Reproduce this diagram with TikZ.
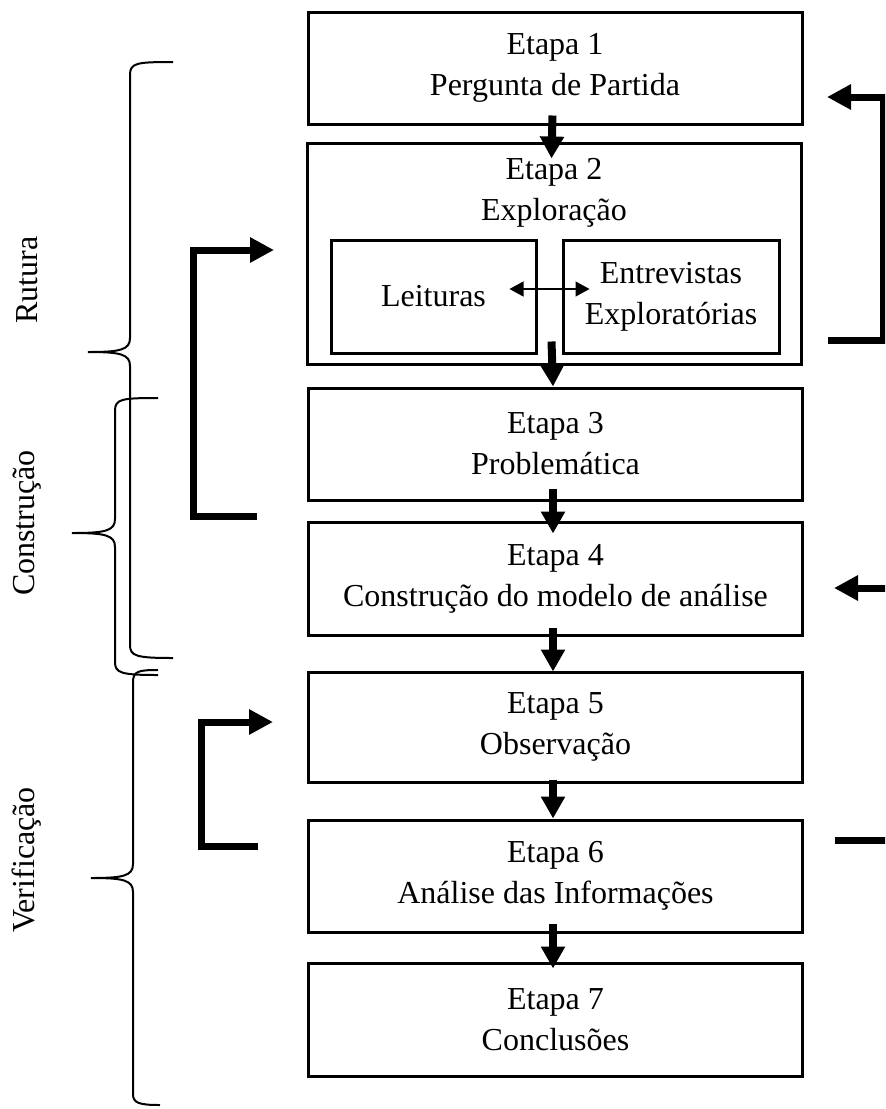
\documentclass[tikz,border=0pt]{standalone}
\usepackage{fontspec}
\setmainfont{Liberation Serif}
\usetikzlibrary{arrows.meta}
\newcommand\fsz{\fontsize{16pt}{20.5pt}\selectfont}
\begin{document}
\begin{tikzpicture}[x=0.5pt,y=-0.5pt,
  box/.style={draw, line width=1.5pt, minimum width=247pt, minimum height=56pt, align=center, inner sep=0pt, font=\fsz},
  sub/.style={draw, line width=1.5pt, minimum height=56.5pt, align=center, inner sep=0pt, font=\fsz},
  txt/.style={align=center, inner sep=0pt, font=\fsz},
  lab/.style={rotate=90, inner sep=0pt, font=\fsz},
  darr/.style={line width=4pt, -{Triangle[length=11pt,width=11.5pt]}},
  barr/.style={line width=3.5pt, -{Triangle[length=12pt,width=12pt]}},
  dbl/.style={line width=0.6pt, {Triangle[length=7pt,width=7.5pt]}-{Triangle[length=7pt,width=7.5pt]}},
  brace/.style={line width=1pt}]
\useasboundingbox (0,0) rectangle (885,1109);
\clip (0,0) rectangle (885,1109);
% main boxes
\node[box] (b1) at (555,68) {Etapa 1\\Pergunta de Partida};
\node[box, minimum height=110.5pt] (b2) at (554,253.5) {};
\node[txt] (b2t) at (554,193) {Etapa 2\\Exploração};
\node[sub, minimum width=102.5pt] (lei) at (433.5,296.5) {Leituras};
\node[sub, minimum width=108pt] (ent) at (671,296.5) {Entrevistas\\Exploratórias};
\node[box] (b3) at (555.5,444) {Etapa 3\\Problemática};
\node[box, minimum height=56.5pt] (b4) at (555.5,578.5) {Etapa 4\\Construção do modelo de análise};
\node[box, minimum height=55pt] (b5) at (555.5,727) {Etapa 5\\Observação};
\node[box] (b6) at (555.5,876) {Etapa 6\\Análise das Informações};
\node[box, minimum height=56.5pt] (b7) at (555.5,1019.5) {Etapa 7\\Conclusões};
% down arrows
\draw[darr] ([shift={(-1.25pt,5pt)}]b1.south) -- ([shift={(-1.25pt,-8.5pt)}]b2.north);
\draw[darr] ([shift={(-1.25pt,12pt)}]b2.south) -- ([shift={(-1.25pt,0pt)}]b3.north);
\draw[darr] ([shift={(-1.25pt,6.5pt)}]b3.south) -- ([shift={(-1.25pt,-6.5pt)}]b4.north);
\draw[darr] ([shift={(-1.25pt,4.5pt)}]b4.south) -- ([shift={(-1.25pt,-0.5pt)}]b5.north);
\draw[darr] ([shift={(-1.25pt,2pt)}]b5.south) -- ([shift={(-1.25pt,0pt)}]b6.north);
\draw[darr] ([shift={(-1.25pt,5pt)}]b6.south) -- ([shift={(-1.25pt,-3.5pt)}]b7.north);
% double arrow
\draw[dbl] ([shift={(-14pt,3.75pt)}]lei.east) -- ([shift={(14pt,3.75pt)}]ent.west);
% left feedback brackets
\coordinate (l1s) at (257,516);
\coordinate (l1e) at (274,250);
\draw[barr] (l1s) -- (193,516) -- (193,250) -- (l1e);
\coordinate (l2s) at (258,846);
\coordinate (l2e) at (273,722);
\draw[barr] (l2s) -- (201,846) -- (201,722) -- (l2e);
% right feedback brackets
\coordinate (r1s) at (828,340);
\coordinate (r1e) at (827,97);
\draw[barr] (r1s) -- (883,340) -- (883,97) -- (r1e);
\coordinate (r2s) at (835,840);
\coordinate (r2e) at (834,588);
\draw[barr] (r2s) -- (895,840) -- (895,588) -- (r2e);
% braces
\draw[brace] (173,62) .. controls (136,62) and (130,63) .. (130,75) -- (130,338)
  .. controls (130,350) and (120,352) .. (88,352)
  .. controls (120,352) and (130,354) .. (130,366) -- (130,645)
  .. controls (130,656) and (136,658) .. (173,658);
\draw[brace] (158,398) .. controls (121,398) and (115,399) .. (115,411) -- (115,519)
  .. controls (115,531) and (105,533) .. (72,533)
  .. controls (105,533) and (115,535) .. (115,547) -- (115,662)
  .. controls (115,673) and (121,675) .. (158,675);
\draw[brace] (158,670) .. controls (139,670) and (133,671) .. (133,682) -- (133,864)
  .. controls (133,876) and (123,878) .. (91,878)
  .. controls (123,878) and (133,880) .. (133,892) -- (133,1094)
  .. controls (133,1103) and (139,1105) .. (160,1105);
% labels
\node[lab] (rut) at (27,280) {Rutura};
\node[lab] (con) at (27,523) {Construção};
\node[lab] (ver) at (27,860) {Verificação};
\end{tikzpicture}
\end{document}
